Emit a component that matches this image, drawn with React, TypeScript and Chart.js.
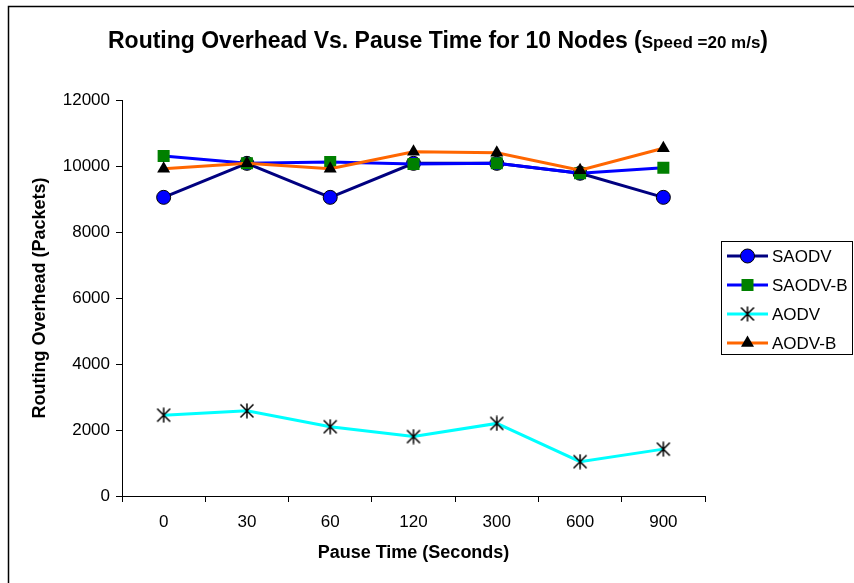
import React, { useEffect, useRef } from "react";
import { Chart, registerables } from "chart.js";

Chart.register(...registerables);

const categories = ["0", "30", "60", "120", "300", "600", "900"];
const saodv = [9050, 10080, 9050, 10080, 10080, 9780, 9050];
const saodvB = [10300, 10080, 10120, 10060, 10080, 9780, 9950];
const aodv = [2450, 2580, 2100, 1800, 2200, 1040, 1420];
const aodvB = [9920, 10080, 9920, 10430, 10400, 9870, 10540];
const yTicks = [0, 2000, 4000, 6000, 8000, 10000, 12000];

const FONT = '"Liberation Sans", Arial, Helvetica, sans-serif';

function makeAsterisk(): HTMLCanvasElement {
  const c = document.createElement("canvas");
  c.width = 16;
  c.height = 16;
  const g = c.getContext("2d")!;
  g.strokeStyle = "#000";
  g.lineWidth = 1.5;
  g.beginPath();
  g.moveTo(8, 0.5);
  g.lineTo(8, 15.5);
  g.moveTo(1.5, 1.5);
  g.lineTo(14.5, 14.5);
  g.moveTo(14.5, 1.5);
  g.lineTo(1.5, 14.5);
  g.stroke();
  return c;
}

function drawMarker(ctx: CanvasRenderingContext2D, kind: string, x: number, y: number, star: HTMLCanvasElement) {
  ctx.save();
  if (kind === "circle") {
    ctx.beginPath();
    ctx.arc(x, y, 7, 0, Math.PI * 2);
    ctx.fillStyle = "#0000FF";
    ctx.fill();
    ctx.strokeStyle = "#000";
    ctx.lineWidth = 1;
    ctx.stroke();
  } else if (kind === "rect") {
    ctx.fillStyle = "#008000";
    ctx.fillRect(x - 6, y - 6, 12, 12);
  } else if (kind === "triangle") {
    const r = 7.5;
    ctx.beginPath();
    ctx.moveTo(x, y - r);
    ctx.lineTo(x + r * 0.866, y + r * 0.5);
    ctx.lineTo(x - r * 0.866, y + r * 0.5);
    ctx.closePath();
    ctx.fillStyle = "#000";
    ctx.fill();
  } else {
    ctx.drawImage(star, x - star.width / 2, y - star.height / 2);
  }
  ctx.restore();
}

export default function App() {
  const ref = useRef<HTMLCanvasElement | null>(null);

  useEffect(() => {
    if (!ref.current) return;
    const star = makeAsterisk();

    const series = [
      { label: "SAODV", data: saodv, line: "#000080", kind: "circle" },
      { label: "SAODV-B", data: saodvB, line: "#0000FF", kind: "rect" },
      { label: "AODV", data: aodv, line: "#00FFFF", kind: "star" },
      { label: "AODV-B", data: aodvB, line: "#FF6600", kind: "triangle" },
    ];

    const decor = {
      id: "decor",
      beforeDraw(chart: any) {
        const ctx = chart.ctx as CanvasRenderingContext2D;
        ctx.save();
        ctx.fillStyle = "#fff";
        ctx.fillRect(0, 0, chart.width, chart.height);
        ctx.strokeStyle = "#000";
        ctx.lineWidth = 1.5;
        ctx.strokeRect(8.5, 6.5, 1000, 1000);
        ctx.restore();
      },
      afterDraw(chart: any) {
        const ctx = chart.ctx as CanvasRenderingContext2D;
        ctx.save();
        // title: pieces with their own font sizes
        const pieces = [
          { t: "Routing Overhead Vs. Pause Time for 10 Nodes ", f: `bold 23px ${FONT}` },
          { t: "(", f: `bold 23px ${FONT}` },
          { t: "Speed =20 m/s", f: `bold 17px ${FONT}` },
          { t: ")", f: `bold 23px ${FONT}` },
        ];
        let total = 0;
        const widths = pieces.map((p) => {
          ctx.font = p.f;
          const w = ctx.measureText(p.t).width;
          total += w;
          return w;
        });
        const left = 108;
        const right = 768;
        const sx = (right - left) / total;
        ctx.fillStyle = "#000";
        ctx.textBaseline = "alphabetic";
        ctx.translate(left, 48);
        ctx.scale(sx, 1);
        let cx = 0;
        pieces.forEach((p, i) => {
          ctx.font = p.f;
          ctx.fillText(p.t, cx, 0);
          cx += widths[i];
        });
        ctx.setTransform(1, 0, 0, 1, 0, 0);

        // legend
        ctx.strokeStyle = "#000";
        ctx.lineWidth = 1;
        ctx.strokeRect(721.5, 241.5, 131, 113);
        const ys = [256, 285, 314, 343];
        ctx.font = `17px ${FONT}`;
        ctx.textBaseline = "middle";
        series.forEach((s, i) => {
          const y = ys[i];
          ctx.beginPath();
          ctx.moveTo(727, y);
          ctx.lineTo(768, y);
          ctx.strokeStyle = s.line;
          ctx.lineWidth = 3;
          ctx.stroke();
          drawMarker(ctx, s.kind, 747.5, y, star);
          ctx.fillStyle = "#000";
          ctx.fillText(s.label, 772, y + 1);
        });
        ctx.restore();
      },
    };

    const pointCommon = (kind: string) => {
      if (kind === "circle")
        return { pointStyle: "circle", pointRadius: 7, pointBackgroundColor: "#0000FF", pointBorderColor: "#000", pointBorderWidth: 1 };
      if (kind === "rect")
        return { pointStyle: "rect", pointRadius: 8.5, pointBackgroundColor: "#008000", pointBorderColor: "#008000", pointBorderWidth: 0 };
      if (kind === "triangle")
        return { pointStyle: "triangle", pointRadius: 7.5, pointBackgroundColor: "#000", pointBorderColor: "#000", pointBorderWidth: 0 };
      return { pointStyle: star, pointRadius: 8, pointBackgroundColor: "#000", pointBorderColor: "#000" };
    };

    const chart = new Chart(ref.current, {
      type: "line",
      data: {
        labels: categories,
        datasets: series.map((s, i) => ({
          label: s.label,
          data: s.data,
          borderColor: s.line,
          borderWidth: 3,
          tension: 0,
          fill: false,
          order: 4 - i,
          ...pointCommon(s.kind),
        })) as any,
      },
      plugins: [decor],
      options: {
        responsive: false,
        animation: false,
        events: [],
        layout: { padding: { left: 0, right: 149, top: 100, bottom: 0 } },
        plugins: {
          legend: { display: false },
          title: { display: false },
          tooltip: { enabled: false },
        },
        scales: {
          x: {
            type: "category",
            offset: true,
            grid: { offset: true, drawOnChartArea: false, drawTicks: true, tickLength: 6, color: "#000" },
            border: { color: "#000", width: 1 },
            ticks: { font: { family: FONT, size: 17 }, color: "#000", padding: 10, maxRotation: 0, autoSkip: false },
            title: {
              display: true,
              text: "Pause Time (Seconds)",
              color: "#000",
              font: { family: FONT, size: 18, weight: "bold" },
              padding: { top: 0, bottom: 19 },
            },
            afterFit: (s: any) => {
              s.height = 87;
            },
          },
          y: {
            min: 0,
            max: 12000,
            afterBuildTicks: (s: any) => {
              s.ticks = yTicks.map((v) => ({ value: v }));
            },
            grid: { drawOnChartArea: false, drawTicks: true, tickLength: 6, color: "#000" },
            border: { color: "#000", width: 1 },
            ticks: {
              font: { family: FONT, size: 17 },
              color: "#000",
              padding: 6,
              callback: (v: any) => String(v),
            },
            title: {
              display: true,
              text: "Routing Overhead (Packets)",
              color: "#000",
              font: { family: FONT, size: 18, weight: "bold" },
              padding: { top: 29, bottom: 0 },
            },
            afterFit: (s: any) => {
              s.width = 122;
            },
          },
        },
      } as any,
    });
    return () => chart.destroy();
  }, []);

  return (
    <div style={{ position: "absolute", left: 0, top: 0, width: 854, height: 583, background: "#fff" }}>
      <canvas ref={ref} width={854} height={583} style={{ display: "block", width: 854, height: 583 }} />
    </div>
  );
}
